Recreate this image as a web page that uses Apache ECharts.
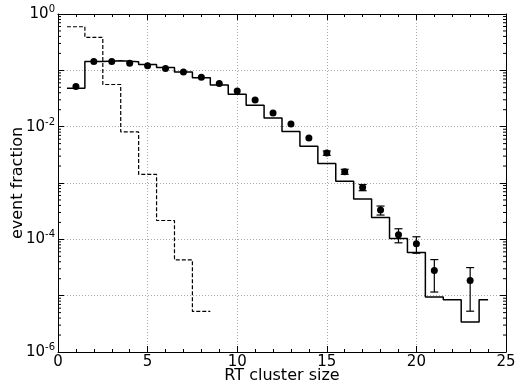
<!DOCTYPE html>
<html>
<head>
<meta charset="utf-8">
<script src="https://cdn.jsdelivr.net/npm/echarts@6/dist/echarts.min.js"></script>
<style>
  html, body { margin: 0; padding: 0; background: #fff; }
  #chart { width: 517px; height: 385px; }
</style>
</head>
<body>
<div id="chart"></div>
<script>
// solid histogram, bins centred on 1..24 (last bin drawn half width)
var simBins = [1, 2, 3, 4, 5, 6, 7, 8, 9, 10, 11, 12, 13, 14, 15, 16, 17, 18, 19, 20, 21, 22, 23, 24];
var simValues = [0.0482, 0.144, 0.148, 0.142, 0.127, 0.112, 0.093, 0.0742, 0.055, 0.0377, 0.024, 0.0143,
  0.00817, 0.00448, 0.00222, 0.00107, 0.00052, 0.000244, 0.000103, 0.0000582, 0.0000095, 0.0000085,
  0.0000034, 0.0000085];

// dashed histogram
var bgBins = [1, 2, 3, 4, 5, 6, 7, 8];
var bgValues = [0.594, 0.385, 0.0561, 0.00805, 0.00142, 0.000216, 0.0000431, 0.00000525];

// measured points
var dataX = [1, 2, 3, 4, 5, 6, 7, 8, 9, 10, 11, 12, 13, 14, 15, 16, 17, 18, 19, 20, 21, 23];
var dataY = [0.0517, 0.144, 0.144, 0.134, 0.12, 0.108, 0.093, 0.0757, 0.0583, 0.043, 0.0297, 0.0175,
  0.0112, 0.0063, 0.0034, 0.00158, 0.00083, 0.00033, 0.00012, 0.0000832, 0.0000279, 0.0000185];
var errX = [15, 16, 17, 18, 19, 20, 21, 23];
var errLow = [0.0031, 0.00143, 0.00073, 0.00027, 0.0000867, 0.0000566, 0.0000116, 0.0000053];
var errHigh = [0.0037, 0.00175, 0.00094, 0.00039, 0.000154, 0.000111, 0.0000437, 0.0000315];

var yDecades = [-6, -5, -4, -3, -2, -1, 0];

var FONT = 'DejaVu Sans';

function stepPoints(bins, vals, lastHalf) {
  var out = [];
  for (var i = 0; i < bins.length; i++) {
    var right = (lastHalf && i === bins.length - 1) ? bins[i] : bins[i] + 0.5;
    out.push([bins[i] - 0.5, vals[i]]);
    out.push([right, vals[i]]);
  }
  return out;
}

// minor tick values 2..9 x 10^k for the log axis
var minorVals = [];
for (var k = 0; k < yDecades.length - 1; k++) {
  for (var m = 2; m <= 9; m++) minorVals.push([0, m * Math.pow(10, yDecades[k])]);
}

// only every second decade is labelled
function yLabel(v) {
  var e = Math.round(Math.log10(v));
  if (e % 2 !== 0) return '';
  return '{b|10}{e|' + e + '}';
}

var chart = echarts.init(document.getElementById('chart'));

var tickStyle = { show: true, inside: true, length: 6, lineStyle: { color: '#000', width: 1 } };
var lineStyle = { show: true, onZero: false, lineStyle: { color: '#000', width: 1 } };
var gridStyle = { show: true, lineStyle: { color: '#aaa', width: 1, type: [1, 2] } };

chart.setOption({
  animation: false,
  backgroundColor: '#fff',
  grid: { left: 58, right: 11, top: 14, bottom: 33, containLabel: false, outerBoundsMode: 'none' },
  xAxis: [{
    type: 'value', min: 0, max: 25, interval: 5,
    axisLine: lineStyle,
    axisTick: tickStyle,
    minorTick: { show: true, splitNumber: 5, length: 3, lineStyle: { color: '#000' } },
    splitLine: gridStyle,
    axisLabel: { color: '#000', fontFamily: FONT, fontSize: 15, margin: 3 },
    name: 'RT cluster size', nameLocation: 'middle', nameGap: 16, nameMoveOverlap: false,
    nameTextStyle: { color: '#000', fontFamily: FONT, fontSize: 16 }
  }, {
    type: 'value', min: 0, max: 25, interval: 5, position: 'top',
    axisLine: lineStyle,
    axisTick: tickStyle,
    minorTick: { show: true, splitNumber: 5, length: 3, lineStyle: { color: '#000' } },
    splitLine: { show: false },
    axisLabel: { show: false }
  }],
  yAxis: [{
    type: 'log', logBase: 10, min: 1e-6, max: 1,
    axisLine: lineStyle,
    axisTick: tickStyle,
    splitLine: gridStyle,
    axisLabel: {
      color: '#000', margin: 3, formatter: yLabel,
      rich: {
        b: { fontFamily: FONT, fontSize: 15, color: '#000' },
        e: { fontFamily: FONT, fontSize: 10, color: '#000', padding: [0, 0, 9, 0] }
      }
    },
    name: 'event fraction', nameLocation: 'middle', nameGap: 32, nameMoveOverlap: false,
    nameTextStyle: { color: '#000', fontFamily: FONT, fontSize: 16 }
  }, {
    type: 'log', logBase: 10, min: 1e-6, max: 1, position: 'right',
    axisLine: lineStyle,
    axisTick: tickStyle,
    splitLine: { show: false },
    axisLabel: { show: false }
  }],
  series: [{
    type: 'line', data: stepPoints(simBins, simValues, true),
    symbol: 'none', lineStyle: { color: '#000', width: 1.5 }, z: 3
  }, {
    type: 'line', data: stepPoints(bgBins, bgValues, false),
    symbol: 'none', lineStyle: { color: '#000', width: 1.2, type: [4, 2] }, z: 3
  }, {
    type: 'custom',
    data: errX.map(function (x, i) { return [x, errLow[i], errHigh[i]]; }),
    renderItem: function (params, api) {
      var lo = api.coord([api.value(0), api.value(1)]);
      var hi = api.coord([api.value(0), api.value(2)]);
      var w = 4;
      var st = { stroke: '#000', lineWidth: 1.2 };
      return {
        type: 'group',
        children: [
          { type: 'line', shape: { x1: lo[0], y1: lo[1], x2: hi[0], y2: hi[1] }, style: st },
          { type: 'line', shape: { x1: lo[0] - w, y1: lo[1], x2: lo[0] + w, y2: lo[1] }, style: st },
          { type: 'line', shape: { x1: hi[0] - w, y1: hi[1], x2: hi[0] + w, y2: hi[1] }, style: st }
        ]
      };
    },
    z: 4
  }, {
    type: 'scatter',
    data: dataX.map(function (x, i) { return [x, dataY[i]]; }),
    symbol: 'circle', symbolSize: 7, itemStyle: { color: '#000', opacity: 1 }, z: 5
  }, {
    // log-axis minor ticks, left and right edges, pointing inward
    type: 'custom', data: minorVals, silent: true,
    renderItem: function (params, api) {
      var l = api.coord([0, api.value(1)]);
      var r = api.coord([25, api.value(1)]);
      var st = { stroke: '#000', lineWidth: 1 };
      return {
        type: 'group',
        children: [
          { type: 'line', shape: { x1: l[0], y1: l[1], x2: l[0] + 3, y2: l[1] }, style: st },
          { type: 'line', shape: { x1: r[0] - 3, y1: r[1], x2: r[0], y2: r[1] }, style: st }
        ]
      };
    },
    z: 6
  }]
});
</script>
</body>
</html>
